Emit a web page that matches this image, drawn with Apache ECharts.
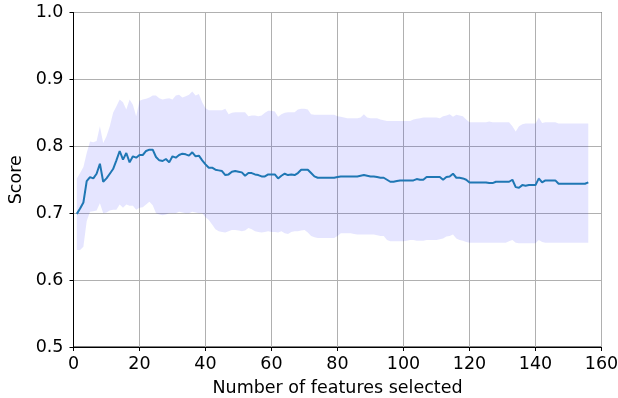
<!DOCTYPE html>
<html>
<head>
<meta charset="utf-8">
<script src="https://cdn.jsdelivr.net/npm/echarts@6/dist/echarts.min.js"></script>
<style>
html,body{margin:0;padding:0;background:#fff;}
#c{width:618px;height:398px;}
</style>
</head>
<body>
<div id="c"></div>
<script>
// Number of features selected: 1..156
const meanScore = [
0.699,0.707,0.716,0.748,0.754,0.752,0.759,0.774,0.747,0.752,
0.759,0.766,0.779,0.793,0.780,0.790,0.776,0.785,0.783,0.787,
0.787,0.793,0.795,0.795,0.784,0.779,0.778,0.781,0.776,0.785,
0.783,0.787,0.789,0.788,0.786,0.791,0.785,0.786,0.779,0.773,
0.768,0.768,0.765,0.764,0.763,0.757,0.758,0.762,0.763,0.762,
0.761,0.756,0.760,0.760,0.758,0.757,0.755,0.755,0.758,0.758,
0.758,0.752,0.756,0.759,0.757,0.758,0.757,0.760,0.765,0.765,
0.765,0.760,0.755,0.753,0.753,0.753,0.753,0.753,0.753,0.754,
0.755,0.755,0.755,0.755,0.755,0.755,0.756,0.757,0.756,0.755,
0.755,0.754,0.753,0.753,0.750,0.747,0.747,0.748,0.749,0.749,
0.749,0.749,0.749,0.751,0.750,0.750,0.754,0.754,0.754,0.754,
0.754,0.750,0.754,0.755,0.759,0.753,0.753,0.752,0.750,0.746,
0.746,0.746,0.746,0.746,0.746,0.745,0.745,0.747,0.747,0.747,
0.747,0.747,0.750,0.739,0.738,0.742,0.741,0.742,0.742,0.742,
0.752,0.746,0.749,0.749,0.749,0.749,0.744,0.744,0.744,0.744,
0.744,0.744,0.744,0.744,0.744,0.746
];
const upperScore = [
0.752,0.760,0.769,0.790,0.807,0.806,0.808,0.830,0.805,0.815,
0.830,0.850,0.860,0.870,0.866,0.855,0.870,0.862,0.845,0.868,
0.870,0.871,0.873,0.876,0.876,0.872,0.870,0.871,0.872,0.870,
0.876,0.877,0.873,0.875,0.877,0.882,0.876,0.878,0.866,0.857,
0.854,0.854,0.854,0.854,0.854,0.856,0.848,0.850,0.851,0.851,
0.851,0.851,0.845,0.846,0.846,0.845,0.846,0.850,0.853,0.853,
0.852,0.844,0.848,0.850,0.851,0.851,0.851,0.855,0.856,0.856,
0.855,0.848,0.847,0.847,0.847,0.847,0.847,0.847,0.847,0.845,
0.844,0.843,0.842,0.842,0.842,0.842,0.843,0.848,0.843,0.842,
0.842,0.842,0.840,0.839,0.838,0.838,0.838,0.838,0.838,0.838,
0.838,0.838,0.840,0.841,0.842,0.843,0.843,0.843,0.843,0.843,
0.842,0.845,0.846,0.848,0.844,0.847,0.846,0.845,0.840,0.836,
0.836,0.836,0.836,0.836,0.836,0.837,0.836,0.836,0.836,0.836,
0.836,0.836,0.830,0.822,0.830,0.833,0.834,0.834,0.834,0.834,
0.843,0.835,0.836,0.836,0.836,0.836,0.834,0.834,0.834,0.834,
0.834,0.834,0.834,0.834,0.834,0.834
];
const lowerScore = [
0.645,0.645,0.650,0.688,0.702,0.703,0.704,0.715,0.700,0.701,
0.704,0.705,0.705,0.713,0.708,0.713,0.711,0.711,0.705,0.708,
0.709,0.713,0.717,0.712,0.700,0.698,0.697,0.698,0.700,0.700,
0.700,0.702,0.701,0.700,0.700,0.702,0.701,0.700,0.700,0.694,
0.690,0.683,0.676,0.673,0.672,0.671,0.673,0.675,0.675,0.674,
0.673,0.674,0.678,0.676,0.673,0.672,0.671,0.672,0.673,0.672,
0.672,0.671,0.673,0.670,0.669,0.672,0.673,0.673,0.674,0.675,
0.671,0.666,0.664,0.663,0.663,0.663,0.663,0.663,0.663,0.666,
0.670,0.670,0.670,0.670,0.669,0.668,0.668,0.668,0.668,0.668,
0.668,0.667,0.666,0.666,0.660,0.658,0.658,0.658,0.658,0.658,
0.659,0.660,0.660,0.659,0.659,0.659,0.660,0.660,0.660,0.660,
0.661,0.662,0.665,0.666,0.668,0.662,0.660,0.659,0.657,0.656,
0.656,0.656,0.656,0.656,0.656,0.656,0.656,0.656,0.656,0.656,
0.656,0.658,0.660,0.656,0.655,0.655,0.655,0.655,0.655,0.655,
0.660,0.657,0.656,0.656,0.656,0.656,0.656,0.656,0.656,0.656,
0.656,0.656,0.656,0.656,0.656,0.656
];
const xTicks = [0,20,40,60,80,100,120,140,160];
const yTicks = [0.5,0.6,0.7,0.8,0.9,1.0];

const nFeat = meanScore.map((_, i) => i + 1);
const meanData = nFeat.map((n, i) => [n, meanScore[i]]);

const font = 'DejaVu Sans';
const fs = 17.5;
const chart = echarts.init(document.getElementById('c'), null, {renderer: 'canvas'});
chart.setOption({
  animation: false,
  backgroundColor: '#fff',
  grid: {left: 73.5, right: 16.5, top: 12.5, bottom: 51, show: true, borderColor: '#000', borderWidth: 1, containLabel: false, outerBoundsMode: 'none'},
  xAxis: {
    type: 'value', min: xTicks[0], max: xTicks[xTicks.length-1], interval: 20,
    name: 'Number of features selected', nameLocation: 'middle', nameGap: 32,
    nameTextStyle: {fontFamily: font, fontSize: fs, color: '#000'},
    axisLine: {show: true, lineStyle: {color: '#000', width: 1}},
    axisTick: {show: true, length: 4, lineStyle: {color: '#000'}},
    axisLabel: {fontFamily: font, fontSize: fs, color: '#000', margin: 8},
    splitLine: {show: true, lineStyle: {color: '#b0b0b0', width: 1}}
  },
  yAxis: {
    type: 'value', min: yTicks[0], max: yTicks[yTicks.length-1], interval: 0.1,
    name: 'Score', nameLocation: 'middle', nameGap: 48, nameMoveOverlap: false,
    nameTextStyle: {fontFamily: font, fontSize: fs, color: '#000'},
    axisLine: {show: true, lineStyle: {color: '#000', width: 1}},
    axisTick: {show: true, length: 4, lineStyle: {color: '#000'}},
    axisLabel: {fontFamily: font, fontSize: fs, color: '#000', margin: 10, formatter: v => v.toFixed(1)},
    splitLine: {show: true, lineStyle: {color: '#b0b0b0', width: 1}}
  },
  series: [
    {
      type: 'custom', silent: true, z: 1,
      data: [0],
      renderItem: function (params, api) {
        const pts = [];
        for (let i = 0; i < nFeat.length; i++) pts.push(api.coord([nFeat[i], upperScore[i]]));
        for (let i = nFeat.length - 1; i >= 0; i--) pts.push(api.coord([nFeat[i], lowerScore[i]]));
        return {type: 'polygon', shape: {points: pts}, style: {fill: 'rgba(0,0,255,0.1)', stroke: null}};
      }
    },
    {type: 'line', data: meanData, symbol: 'none', lineStyle: {color: '#1f77b4', width: 2}, z: 3}
  ]
});
</script>
</body>
</html>
